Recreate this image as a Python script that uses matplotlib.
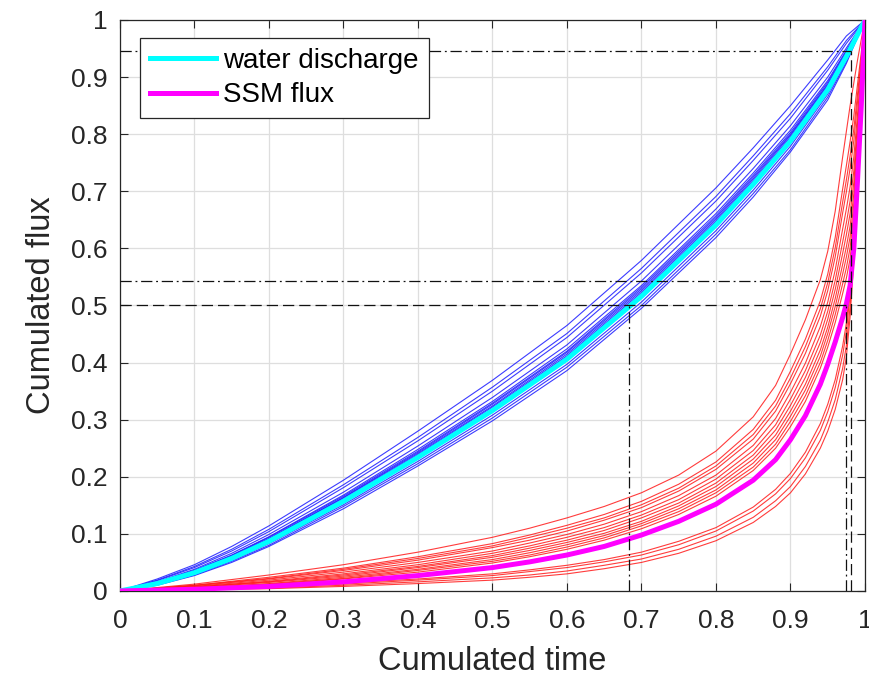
"""Cumulated flux vs cumulated time: water discharge and SSM flux curves."""

import matplotlib
matplotlib.use("Agg")
import matplotlib.pyplot as plt
import numpy as np

plt.rcParams["font.family"] = ["Liberation Sans", "DejaVu Sans"]

X_Q = [0, .05, .1, .15, .2, .3, .4, .5, .6, .7, .8, .85, .9, .95, .975, 1]
X_S = [0, .1, .2, .3, .4, .5, .55, .6, .65, .7, .75, .8, .85, .88, .9, .92,
       .94, .95, .96, .97, .975, .98, .985, .99, .995, 1]

# mean curves
Q_MEAN = [0, .013, .032, .057, .087, .157, .234, .316, .406, .516, .641, .712, .788, .878, .936, 1]
S_MEAN = [0, .003, .008, .016, .027, .041, .051, .063, .078, .098, .122, .152, .194, .230,
          .265, .307, .362, .397, .436, .479, .503, .535, .600, .720, .850, 1]

# individual water discharge curves
Q_CURVES = [
    [0, .021, .046, .078, .114, .194, .280, .369, .465, .579, .706, .776, .850, .930, .972, 1],
    [0, .019, .043, .073, .108, .186, .269, .357, .451, .565, .691, .762, .836, .918, .964, 1],
    [0, .018, .041, .070, .104, .181, .263, .350, .444, .557, .683, .754, .828, .912, .959, 1],
    [0, .016, .038, .066, .099, .173, .254, .339, .431, .543, .669, .740, .815, .900, .951, 1],
    [0, .015, .036, .063, .095, .168, .248, .332, .424, .535, .661, .732, .807, .894, .947, 1],
    [0, .015, .036, .062, .094, .166, .245, .329, .420, .532, .657, .728, .803, .891, .945, 1],
    [0, .015, .035, .061, .092, .164, .243, .327, .418, .529, .654, .725, .800, .888, .943, 1],
    [0, .014, .034, .060, .091, .163, .241, .324, .415, .526, .651, .722, .798, .886, .942, 1],
    [0, .014, .034, .059, .090, .161, .239, .322, .412, .523, .648, .719, .795, .884, .940, 1],
    [0, .013, .033, .058, .089, .159, .237, .319, .410, .520, .645, .716, .792, .881, .938, 1],
    [0, .012, .030, .054, .083, .151, .227, .308, .397, .506, .631, .702, .779, .870, .931, 1],
    [0, .011, .028, .052, .080, .148, .223, .303, .392, .500, .625, .696, .773, .865, .927, 1],
    [0, .010, .027, .050, .078, .144, .219, .298, .386, .495, .619, .690, .769, .860, .924, 1],
]

# individual SSM flux curves
S_CURVES = [
    [0, .012, .028, .046, .068, .094, .110, .128, .148, .172, .203, .245, .305, .360,
     .415, .475, .545, .595, .665, .760, .805, .850, .890, .930, .966, 1],
    [0, .010, .024, .040, .060, .083, .098, .115, .134, .157, .187, .226, .283, .334,
     .385, .441, .508, .555, .619, .704, .745, .787, .832, .888, .943, 1],
    [0, .010, .022, .038, .057, .079, .094, .110, .128, .151, .180, .219, .274, .324,
     .373, .428, .494, .540, .601, .681, .720, .762, .809, .871, .934, 1],
    [0, .009, .021, .036, .054, .076, .089, .105, .124, .146, .175, .213, .266, .315,
     .363, .416, .481, .526, .585, .662, .699, .740, .789, .857, .925, 1],
    [0, .008, .019, .033, .050, .070, .084, .099, .117, .139, .167, .203, .255, .302,
     .348, .399, .463, .506, .562, .634, .669, .708, .760, .836, .914, 1],
    [0, .007, .017, .030, .046, .066, .079, .094, .111, .133, .160, .196, .246, .291,
     .336, .386, .448, .490, .544, .611, .645, .683, .736, .819, .905, 1],
    [0, .007, .016, .028, .043, .062, .075, .089, .106, .128, .154, .189, .238, .282,
     .325, .374, .435, .476, .528, .591, .624, .661, .716, .804, .896, 1],
    [0, .006, .015, .026, .041, .059, .071, .085, .101, .122, .149, .183, .231, .273,
     .315, .362, .422, .462, .512, .572, .603, .639, .696, .789, .888, 1],
    [0, .005, .013, .024, .038, .055, .067, .081, .097, .118, .144, .177, .224, .265,
     .306, .352, .411, .451, .498, .555, .585, .620, .678, .777, .881, 1],
    [0, .005, .012, .022, .036, .052, .063, .077, .093, .114, .139, .172, .217, .257,
     .297, .342, .400, .439, .484, .538, .566, .601, .661, .764, .874, 1],
    [0, .004, .011, .021, .033, .049, .060, .073, .089, .109, .134, .166, .211, .250,
     .288, .332, .390, .427, .470, .521, .548, .582, .644, .752, .867, 1],
    [0, .004, .008, .014, .021, .030, .037, .045, .055, .068, .087, .111, .147, .178,
     .206, .243, .293, .327, .370, .429, .469, .536, .627, .735, .859, 1],
    [0, .003, .007, .012, .019, .027, .034, .041, .051, .063, .081, .105, .140, .170,
     .197, .233, .281, .314, .356, .413, .454, .521, .614, .725, .854, 1],
    [0, .003, .005, .010, .016, .023, .028, .035, .045, .056, .073, .096, .129, .158,
     .183, .218, .264, .296, .335, .390, .430, .499, .596, .712, .846, 1],
    [0, .002, .004, .008, .013, .019, .024, .030, .039, .050, .066, .088, .120, .148,
     .172, .205, .250, .280, .318, .370, .410, .480, .580, .700, .840, 1],
]

# reference levels (time, flux)
T50_Q = 0.683
T50_S = 0.975
T95_S = 0.981
F_HI = 0.945
F_MID = 0.543
F_50 = 0.5

TICKS = np.round(np.arange(0, 1.01, 0.1), 1)
TICK_LABELS = ["0"] + [f"{t:.1f}" for t in TICKS[1:-1]] + ["1"]

fig = plt.figure(figsize=(8.69, 6.84), dpi=100)
ax = fig.add_axes([0.138, 0.136, 0.8574, 0.8348])

for y in Q_CURVES:
    ax.plot(X_Q, y, color="#1a1aff", lw=0.8, alpha=0.85, zorder=2)
for y in S_CURVES:
    ax.plot(X_S, y, color="#ff1a1a", lw=0.8, alpha=0.85, zorder=2)

ax.plot(X_Q, Q_MEAN, color="cyan", lw=3.6, zorder=3, label="water discharge")
ax.plot(X_S, S_MEAN, color="magenta", lw=3.6, zorder=3, label="SSM flux")

dashdot = (0, (9, 3, 1.5, 3))
dashed = (0, (9, 4))
ref = dict(color="#111111", lw=0.9, zorder=4)
ax.plot([0, T95_S], [F_HI, F_HI], ls=dashdot, **ref)
ax.plot([T95_S, T95_S], [0, F_HI], ls=dashed, **ref)
ax.plot([0, T95_S], [F_MID, F_MID], ls=dashdot, **ref)
ax.plot([0, T50_S], [F_50, F_50], ls=dashed, **ref)
ax.plot([T50_S, T50_S], [0, F_50], ls=dashdot, **ref)
ax.plot([T50_Q, T50_Q], [0, F_50], ls=dashdot, **ref)

ax.set_xlim(0, 1)
ax.set_ylim(0, 1)
ax.set_xticks(TICKS)
ax.set_xticklabels(TICK_LABELS)
ax.set_yticks(TICKS)
ax.set_yticklabels(TICK_LABELS)
ax.tick_params(direction="in", length=6, width=0.8, colors="#262626",
               labelsize=19, top=True, right=True)
ax.tick_params(axis="x", pad=13)
ax.tick_params(axis="y", pad=9)
ax.grid(True, color="#dedede", lw=0.9)
ax.set_axisbelow(True)
for sp in ax.spines.values():
    sp.set_color("#262626")
    sp.set_linewidth(0.9)

ax.set_xlabel("Cumulated time", fontsize=23.5, color="#262626", labelpad=9)
ax.set_ylabel("Cumulated flux", fontsize=23.5, color="#262626", labelpad=10)

leg = ax.legend(loc="upper left", bbox_to_anchor=(0.027, 0.968), borderaxespad=0,
                fontsize=20, handlelength=2.4, handletextpad=0.25,
                fancybox=False, framealpha=1, edgecolor="#262626",
                borderpad=0.35, labelspacing=0.3)
leg.get_frame().set_linewidth(0.9)

fig.savefig("out.png", dpi=100)
